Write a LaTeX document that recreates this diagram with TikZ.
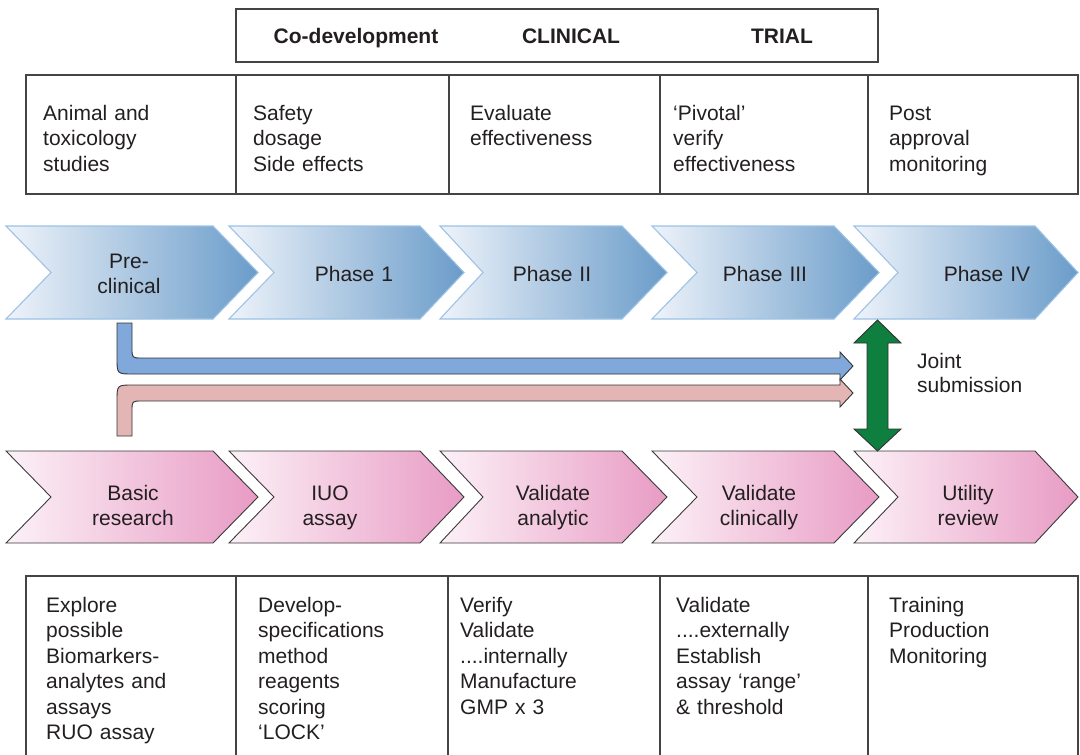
\documentclass[tikz,border=0pt]{standalone}
\usepackage{fontspec}
\setmainfont{Liberation Sans}
\definecolor{txt}{HTML}{231F20}
\definecolor{blueL}{HTML}{EEF3FA}
\definecolor{blueR}{HTML}{6A9CC9}
\definecolor{blueEdge}{HTML}{9CC2E6}
\definecolor{pinkL}{HTML}{FCF1F7}
\definecolor{pinkR}{HTML}{E89BC4}
\definecolor{pinkEdge}{HTML}{3A3A3A}
\definecolor{arrBlue}{HTML}{80A8DA}
\definecolor{arrPink}{HTML}{E3B5B4}
\definecolor{jointGreen}{HTML}{0E7F3F}
\definecolor{tblLine}{HTML}{444444}
\begin{document}
\begin{tikzpicture}[x=1pt,y=-1pt,
  tbl/.style={draw=tblLine,line width=1.2pt},
  bluechev/.style={draw=blueEdge,line width=1.1pt,left color=blueL,right color=blueR},
  pinkchev/.style={draw=pinkEdge,line width=0.9pt,left color=pinkL,right color=pinkR},
  fatarrow/.style={draw=black!80,line width=0.9pt,line join=miter},
  basetxt/.style={inner sep=0pt,text=txt,font=\fontsize{21}{25.5}\selectfont},
  hdr/.style={basetxt,anchor=base,font=\fontsize{21}{25.5}\selectfont\bfseries},
  cell/.style={basetxt,anchor=base west,align=left,text width=195pt},
  chevtext/.style={basetxt,anchor=base,align=center,text width=150pt,font=\fontsize{21}{25}\selectfont}]
\useasboundingbox (0,0) rectangle (1080,755);

% header box
\draw[tbl] (236,9) rectangle (878,62);
\node[hdr] (codev) at (356,43) {Co-development};
\node[hdr] (clin) at (571,43) {CLINICAL};
\node[hdr] (trial) at (782,43) {TRIAL};

% top table
\draw[tbl] (26,75) rectangle (1078,194);
\foreach \x in {236,449,660,868} \draw[tbl] (\x,75) -- (\x,194);
\node[cell] (t1) at (43,120) {Animal and\\toxicology\\studies};
\node[cell] (t2) at (253,120) {Safety\\dosage\\Side effects};
\node[cell] (t3) at (470,120) {Evaluate\\effectiveness};
\node[cell] (t4) at (673,120) {‘Pivotal’\\verify\\effectiveness};
\node[cell] (t5) at (889,120) {Post\\approval\\monitoring};

% chevrons
\foreach \a/\b/\c/\d in {6/51/213/258, 229/274/420/464, 440/483/622/667, 652/697/834/879, 854/898/1035/1078} {
  \path[bluechev] (\a,226) -- (\c,226) -- (\d,272.5) -- (\c,319) -- (\a,319) -- (\b,272.5) -- cycle;
  \path[pinkchev] (\a,451) -- (\c,451) -- (\d,497) -- (\c,543) -- (\a,543) -- (\b,497) -- cycle;
}
\node[chevtext] (pre) at (129,268) {Pre-\\clinical};
\node[chevtext] (ph1) at (354,281) {Phase 1};
\node[chevtext] (ph2) at (552,281) {Phase II};
\node[chevtext] (ph3) at (765,281) {Phase III};
\node[chevtext] (ph4) at (987,281) {Phase IV};
\node[chevtext] (basic) at (133,500) {Basic\\research};
\node[chevtext] (iuo) at (330,500) {IUO\\assay};
\node[chevtext] (vana) at (553,500) {Validate\\analytic};
\node[chevtext] (vcli) at (759,500) {Validate\\clinically};
\node[chevtext] (util) at (968,500) {Utility\\review};

% bent fat arrows
\draw[fatarrow,fill=arrBlue] (117,323) -- (117,358) .. controls (117,374) .. (133,374) -- (840,374) -- (840,380) -- (853,366) -- (840,352) -- (840,358) -- (142,358) .. controls (132,358) .. (132,348) -- (132,323) -- cycle;
\draw[fatarrow,fill=arrPink] (117,436) -- (117,401) .. controls (117,385) .. (133,385) -- (840,385) -- (840,379) -- (853,393) -- (840,407) -- (840,401) -- (142,401) .. controls (132,401) .. (132,411) -- (132,436) -- cycle;

% joint submission double arrow
\draw[fatarrow,fill=jointGreen] (877.5,320) -- (901,343) -- (888,343) -- (888,429) -- (901,429) -- (877.5,451) -- (854,429) -- (867,429) -- (867,343) -- (854,343) -- cycle;
\node[cell] (joint) at (917,368) {Joint\\[-1.5pt]submission};

% bottom table
\draw[tbl] (26,760) -- (26,576) -- (1078,576) -- (1078,760);
\foreach \x in {236,448,660,868} \draw[tbl] (\x,576) -- (\x,760);
\node[cell] (b1) at (46,612) {Explore\\possible\\Biomarkers-\\analytes and\\assays\\RUO assay};
\node[cell] (b2) at (258,612) {Develop-\\specifications\\method\\reagents\\scoring\\‘LOCK’};
\node[cell] (b3) at (460,612) {Verify\\Validate\\....internally\\Manufacture\\GMP x 3};
\node[cell] (b4) at (676,612) {Validate\\....externally\\Establish\\assay ‘range’\\\& threshold};
\node[cell] (b5) at (889,612) {Training\\Production\\Monitoring};
\end{tikzpicture}
\end{document}
